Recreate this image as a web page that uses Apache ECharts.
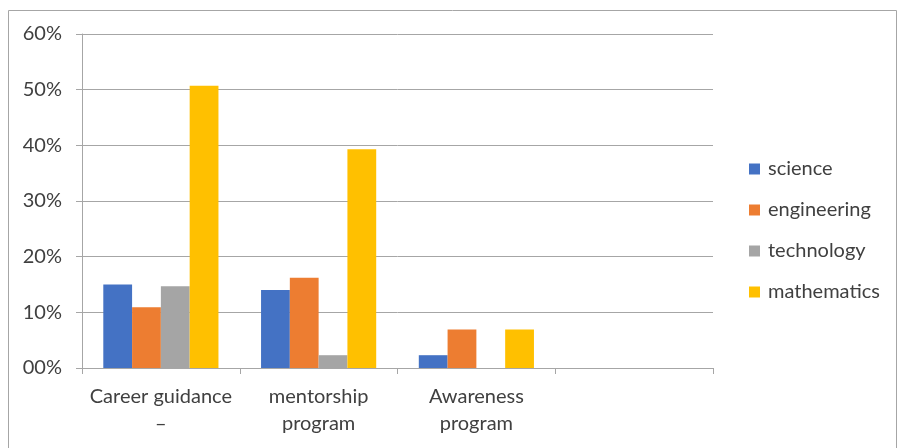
<!DOCTYPE html>
<html><head><meta charset="utf-8">
<script src="https://cdn.jsdelivr.net/npm/echarts@6/dist/echarts.min.js"></script>
<style>html,body{margin:0;padding:0;background:#fff}#c{width:898px;height:448px}</style>
</head><body><div id="c"></div>
<script>
const categories = ["Career guidance\n–", "mentorship\nprogram", "Awareness\nprogram", ""];
const seriesNames = ["science", "engineering", "technology", "mathematics"];
const science = [15.0, 14.0, 2.3, null];
const engineering = [10.9, 16.2, 6.9, null];
const technology = [14.7, 2.3, 0, null];
const mathematics = [50.7, 39.3, 6.9, null];
const colors = ["#4472C4", "#ED7D31", "#A5A5A5", "#FFC000"];
const yTicks = [0, 10, 20, 30, 40, 50, 60];

const values = [science, engineering, technology, mathematics];
const font = "Lato, 'Open Sans', sans-serif";
const chart = echarts.init(document.getElementById('c'));
chart.setOption({
  animation: false,
  color: colors,
  graphic: [{type: 'rect', shape: {x: 8.5, y: 10.5, width: 888, height: 445}, style: {fill: 'none', stroke: '#a6a6a6', lineWidth: 1}, silent: true}],
  grid: {left: 82, right: 185, top: 34, bottom: 80, containLabel: false},
  legend: {
    orient: 'vertical', left: 744, top: 154, itemGap: 21, itemWidth: 11, itemHeight: 11,
    icon: 'rect', textStyle: {fontFamily: font, fontSize: 20, lineHeight: 20, color: '#404040', padding: [0,0,0,3]},
    data: seriesNames
  },
  xAxis: {
    type: 'category', data: categories,
    axisLine: {lineStyle: {color: '#a6a6a6'}},
    axisTick: {show: true, length: 6, lineStyle: {color: '#a6a6a6'}},
    axisLabel: {fontFamily: font, fontSize: 20, color: '#404040', lineHeight: 27, margin: 15, interval: 0, hideOverlap: false}
  },
  yAxis: {
    type: 'value', min: yTicks[0], max: yTicks[yTicks.length-1], interval: 10,
    axisLine: {show: true, lineStyle: {color: '#a6a6a6'}},
    axisTick: {show: true, length: 6, lineStyle: {color: '#a6a6a6'}},
    splitLine: {lineStyle: {color: '#a6a6a6'}},
    axisLabel: {fontFamily: font, fontSize: 20, color: '#404040', margin: 20,
      formatter: v => (v === 0 ? '00' : v) + '%'}
  },
  series: seriesNames.map((n, i) => ({
    name: n, type: 'bar', data: values[i], barGap: '0%', barCategoryGap: '27%'
  }))
});
</script></body></html>
